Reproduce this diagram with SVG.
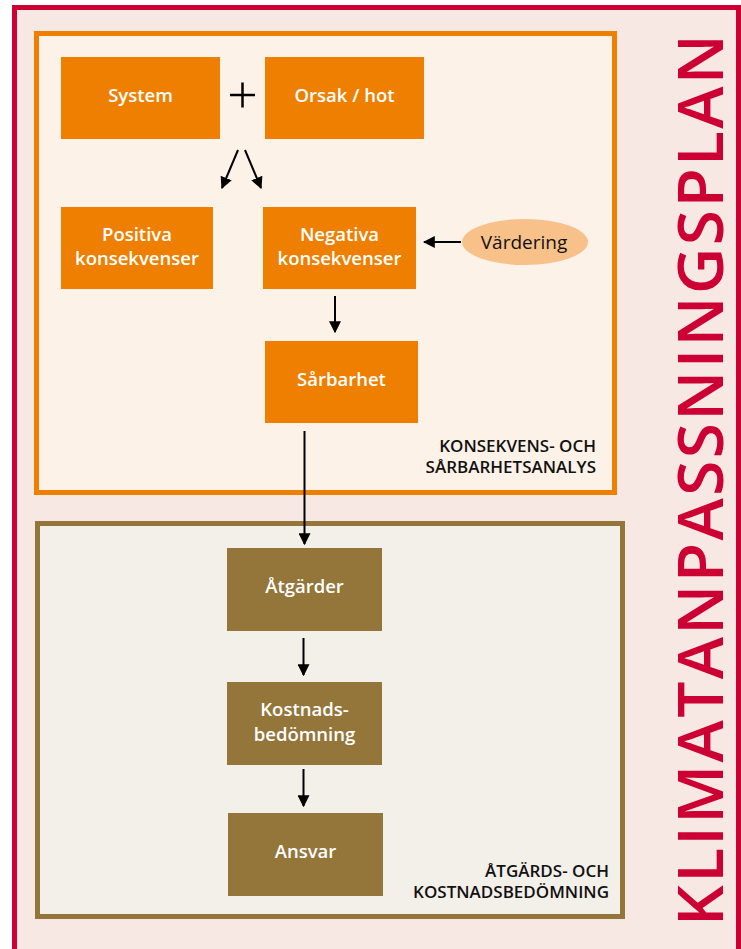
<svg xmlns="http://www.w3.org/2000/svg" width="741" height="949" viewBox="0 0 741 949">
<style>
.node-o{fill:#EE7F00}
.node-b{fill:#94763A}
.nt{font-family:"Open Sans","Liberation Sans",sans-serif;font-weight:600;font-size:18.5px;fill:#FFFFFF;text-anchor:middle}
.lbl{font-family:"Open Sans","Liberation Sans",sans-serif;font-weight:600;font-size:17px;fill:#111111;text-anchor:end}
.conn{stroke:#000;stroke-width:2;fill:none;marker-end:url(#ah)}
</style>
<defs>
<marker id="ah" viewBox="0 0 10 10" refX="9" refY="5" markerWidth="6" markerHeight="6" markerUnits="strokeWidth" orient="auto">
<path d="M0,0 L10,5 L0,10 z" fill="#000"/>
</marker>
</defs>
<rect x="0" y="0" width="741" height="949" fill="#FFFFFF"/>
<rect x="14.5" y="7.5" width="724" height="960" fill="#F7E8E4" stroke="#CC0033" stroke-width="5"/>
<g id="section-konsekvens">
<rect x="36.5" y="33.5" width="578" height="459" fill="#FDF2E8" stroke="#EE7F00" stroke-width="5"/>
<text class="lbl" x="596" y="452">KONSEKVENS- OCH</text>
<text class="lbl" x="596" y="473">SÅRBARHETSANALYS</text>
</g>
<g id="section-atgards">
<rect x="37.5" y="523.5" width="585" height="393" fill="#F3EFE9" stroke="#94763A" stroke-width="5"/>
<text class="lbl" x="609" y="877">ÅTGÄRDS- OCH</text>
<text class="lbl" x="609" y="898">KOSTNADSBEDÖMNING</text>
</g>
<g id="system"><rect class="node-o" x="61" y="57" width="159" height="82"/><text class="nt" x="140.5" y="102">System</text></g>
<g id="orsak"><rect class="node-o" x="265" y="57" width="159" height="82"/><text class="nt" x="344.5" y="102">Orsak / hot</text></g>
<g id="plus"><path d="M230,95 H255 M242.5,82.5 V107.5" stroke="#000" stroke-width="2.5" fill="none"/></g>
<g id="positiva"><rect class="node-o" x="61" y="207" width="152" height="82"/><text class="nt" x="137" y="241">Positiva</text><text class="nt" x="137" y="265">konsekvenser</text></g>
<g id="negativa"><rect class="node-o" x="263" y="207" width="153" height="82"/><text class="nt" x="339.5" y="241">Negativa</text><text class="nt" x="339.5" y="265">konsekvenser</text></g>
<g id="vardering"><ellipse cx="525" cy="242" rx="63" ry="23" fill="#F8C18A"/><text x="524" y="248.5" font-family="'Open Sans','Liberation Sans',sans-serif" font-size="19" fill="#111" text-anchor="middle">Värdering</text></g>
<g id="sarbarhet"><rect class="node-o" x="265" y="341" width="153" height="82"/><text class="nt" x="341.5" y="386">Sårbarhet</text></g>
<g id="atgarder"><rect class="node-b" x="227" y="548" width="155" height="83"/><text class="nt" x="304.5" y="593">Åtgärder</text></g>
<g id="kostnad"><rect class="node-b" x="227" y="682" width="155" height="83"/><text class="nt" x="304.5" y="716">Kostnads-</text><text class="nt" x="304.5" y="741">bedömning</text></g>
<g id="ansvar"><rect class="node-b" x="228" y="813" width="155" height="83"/><text class="nt" x="305.5" y="858">Ansvar</text></g>
<g id="connectors">
<line class="conn" x1="238" y1="150" x2="222" y2="188"/>
<line class="conn" x1="245" y1="150" x2="261" y2="188"/>
<line class="conn" x1="461" y1="242" x2="424" y2="242"/>
<line class="conn" x1="335" y1="296" x2="335" y2="332"/>
<line class="conn" x1="304.5" y1="431" x2="304.5" y2="544"/>
<line class="conn" x1="303.5" y1="638" x2="303.5" y2="675"/>
<line class="conn" x1="303.5" y1="769" x2="303.5" y2="806"/>
</g>
<g id="title">
<text transform="translate(723,926) rotate(-90)" x="0" y="0" font-family="'Open Sans','Liberation Sans',sans-serif" font-weight="600" font-size="64" fill="#CC0033" textLength="892" lengthAdjust="spacing">KLIMATANPASSNINGSPLAN</text>
</g>
</svg>
